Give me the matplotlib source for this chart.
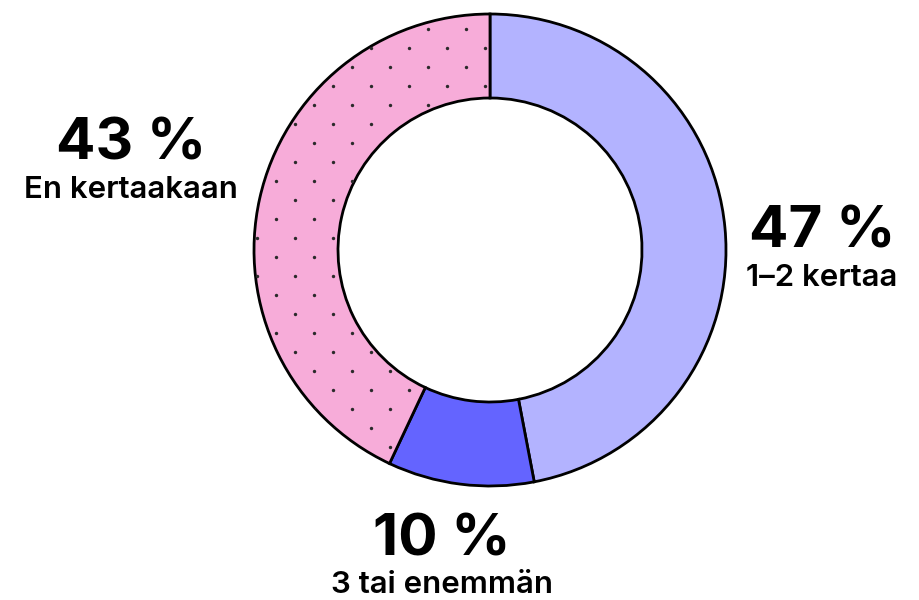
import numpy as np
import matplotlib
matplotlib.use("Agg")
import matplotlib.pyplot as plt

# answer shares, drawn clockwise from the top
labels = ["1–2 kertaa", "3 tai enemmän", "En kertaakaan"]
values = [47, 10, 43]
colors = ["#b3b3ff", "#6464ff", "#f7acd9"]

# where each label block sits (pixel coords, y from the top)
label_pos = [(822, 248), (442, 555), (131, 160)]

plt.rcParams["font.family"] = ["Inter", "DejaVu Sans"]

fig = plt.figure(figsize=(9.19, 6), dpi=100)
ax = fig.add_axes([0, 0, 1, 1])

cx, cy, r_out = 490, 350, 236
wedges, _ = ax.pie(values, colors=colors, startangle=90, counterclock=False,
                   center=(cx, cy), radius=r_out, frame=True,
                   wedgeprops=dict(width=84, edgecolor="black", linewidth=2))
ax.set_xlim(0, 919)
ax.set_ylim(0, 600)
ax.set_aspect("equal")
ax.axis("off")

# dotted texture on the last wedge
pts = []
for r in range(-2, 30):
    y = 48 + 19 * r
    xs = np.arange(485 - 19 * (r % 2), 200, -38)
    pts += [(x, 600 - y) for x in xs]
pts = np.array(pts)
dots = ax.scatter(pts[:, 0], pts[:, 1], s=6, color="#2a2a2a", zorder=3, linewidths=0)
dots.set_clip_path(wedges[2])

for lab, val, (x, y) in zip(labels, values, label_pos):
    ax.text(x, 600 - y, f"{val} %", ha="center", va="baseline",
            fontsize=42, fontweight="bold", color="black")
    ax.text(x, 600 - y - 38, lab, ha="center", va="baseline",
            fontsize=22.5, fontweight="semibold", color="black")

fig.savefig("out.png", dpi=100)
